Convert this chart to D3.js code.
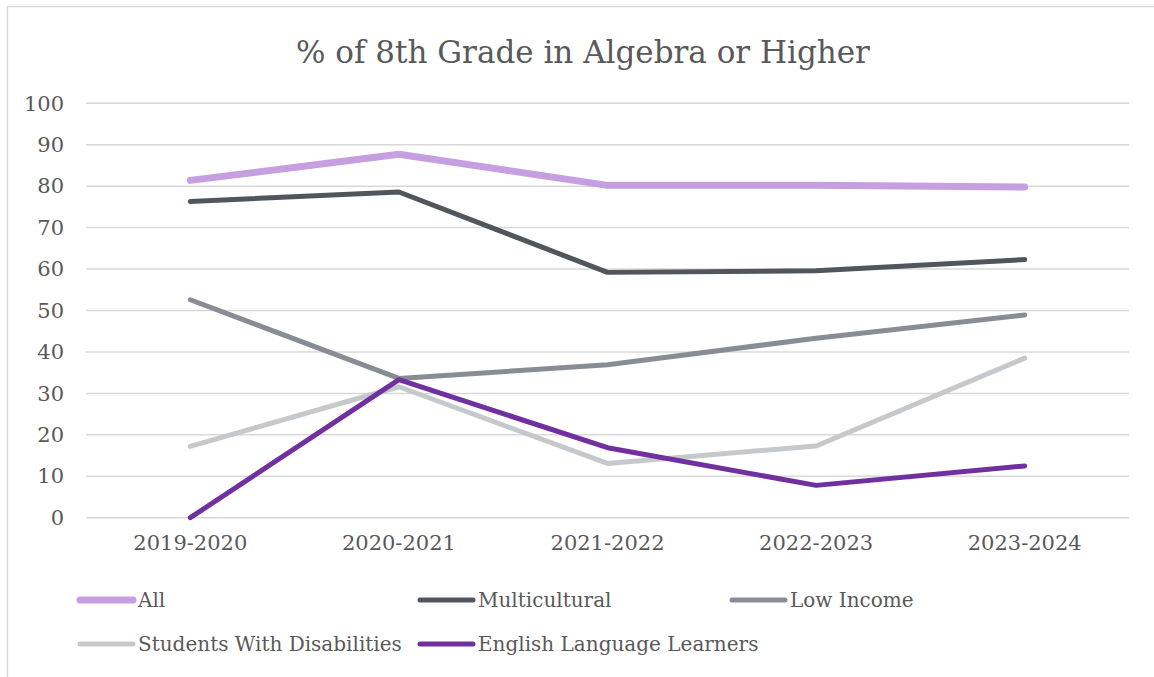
<!DOCTYPE html>
<html>
<head>
<meta charset="utf-8">
<script src="https://cdn.jsdelivr.net/npm/d3@7"></script>
<style>
  body { margin: 0; background: #fff; }
  text { font-family: 'DejaVu Serif', serif; fill: #595959; }
</style>
</head>
<body>
<svg id="chart" width="1154" height="677"></svg>
<script>
const years = ['2019-2020', '2020-2021', '2021-2022', '2022-2023', '2023-2024']
const yTicks = [0, 10, 20, 30, 40, 50, 60, 70, 80, 90, 100]

const allStudents = [81.4, 87.7, 80.2, 80.2, 79.8]
const multicultural = [76.3, 78.6, 59.2, 59.6, 62.3]
const lowIncome = [52.6, 33.6, 36.9, 43.3, 48.9]
const disabilities = [17.2, 31.6, 13.1, 17.3, 38.5]
const ellLearners = [0, 33.3, 16.9, 7.8, 12.5]

const seriesNames = ['All', 'Multicultural', 'Low Income', 'Students With Disabilities', 'English Language Learners']
const seriesValues = [allStudents, multicultural, lowIncome, disabilities, ellLearners]
const seriesColors = ['#c59fe0', '#51565d', '#888d95', '#c6c9cc', '#7030a0']
const seriesWidths = [7, 5, 5, 5, 5]

const svg = d3.select('#chart')

// chart frame (bottom edge runs off the picture)
svg.append('rect')
    .attr('x', 7.5)
    .attr('y', 6.5)
    .attr('width', 1170)
    .attr('height', 700)
    .attr('fill', 'none')
    .attr('stroke', '#d9d9d9')
    .attr('stroke-width', 1.5)

const x = d3.scaleBand().domain(years).range([86, 1129])
const y = d3.scaleLinear().domain([0, 100]).range([517.7, 103.3])

svg.append('text')
    .attr('x', 583)
    .attr('y', 62.5)
    .attr('text-anchor', 'middle')
    .style('font-size', '31px')
    .text('% of 8th Grade in Algebra or Higher')

// gridlines
svg.append('g')
    .selectAll('line')
    .data(yTicks)
    .enter()
    .append('line')
    .attr('x1', 86)
    .attr('x2', 1129)
    .attr('y1', d => y(d))
    .attr('y2', d => y(d))
    .attr('stroke', '#d9d9d9')
    .attr('stroke-width', 1.5)

const yAxis = svg.append('g')
    .attr('transform', 'translate(64,0)')
    .call(d3.axisLeft(y).tickValues(yTicks).tickSize(0).tickPadding(0))
yAxis.select('.domain').remove()
yAxis.selectAll('text').style('font-size', '21px').attr('fill', '#595959').attr('font-family', null)

const xAxis = svg.append('g')
    .attr('transform', 'translate(0,531)')
    .call(d3.axisBottom(x).tickSize(0).tickPadding(0))
xAxis.select('.domain').remove()
xAxis.selectAll('text').style('font-size', '21px').attr('fill', '#595959').attr('font-family', null).attr('dy', '0.9em')

const line = d3.line()
    .x((d, i) => x(years[i]) + x.bandwidth() / 2)
    .y(d => y(d))

svg.append('g')
    .selectAll('path')
    .data(seriesValues)
    .enter()
    .append('path')
    .attr('d', line)
    .attr('fill', 'none')
    .attr('stroke', (d, i) => seriesColors[i])
    .attr('stroke-width', (d, i) => seriesWidths[i])
    .attr('stroke-linecap', 'round')
    .attr('stroke-linejoin', 'round')

// legend: three columns, two rows
const legendCols = [80, 420, 732]
const legendRows = [600, 644]
const legend = svg.append('g')
    .selectAll('g')
    .data(seriesNames)
    .enter()
    .append('g')
    .attr('transform', (d, i) => `translate(${legendCols[i % 3]},${legendRows[Math.floor(i / 3)]})`)
legend.append('line')
    .attr('x1', 0)
    .attr('x2', 53)
    .attr('stroke', (d, i) => seriesColors[i])
    .attr('stroke-width', (d, i) => seriesWidths[i])
    .attr('stroke-linecap', 'round')
legend.append('text')
    .attr('x', 58)
    .attr('dy', '0.35em')
    .style('font-size', '20px')
    .text(d => d)
</script>
</body>
</html>
